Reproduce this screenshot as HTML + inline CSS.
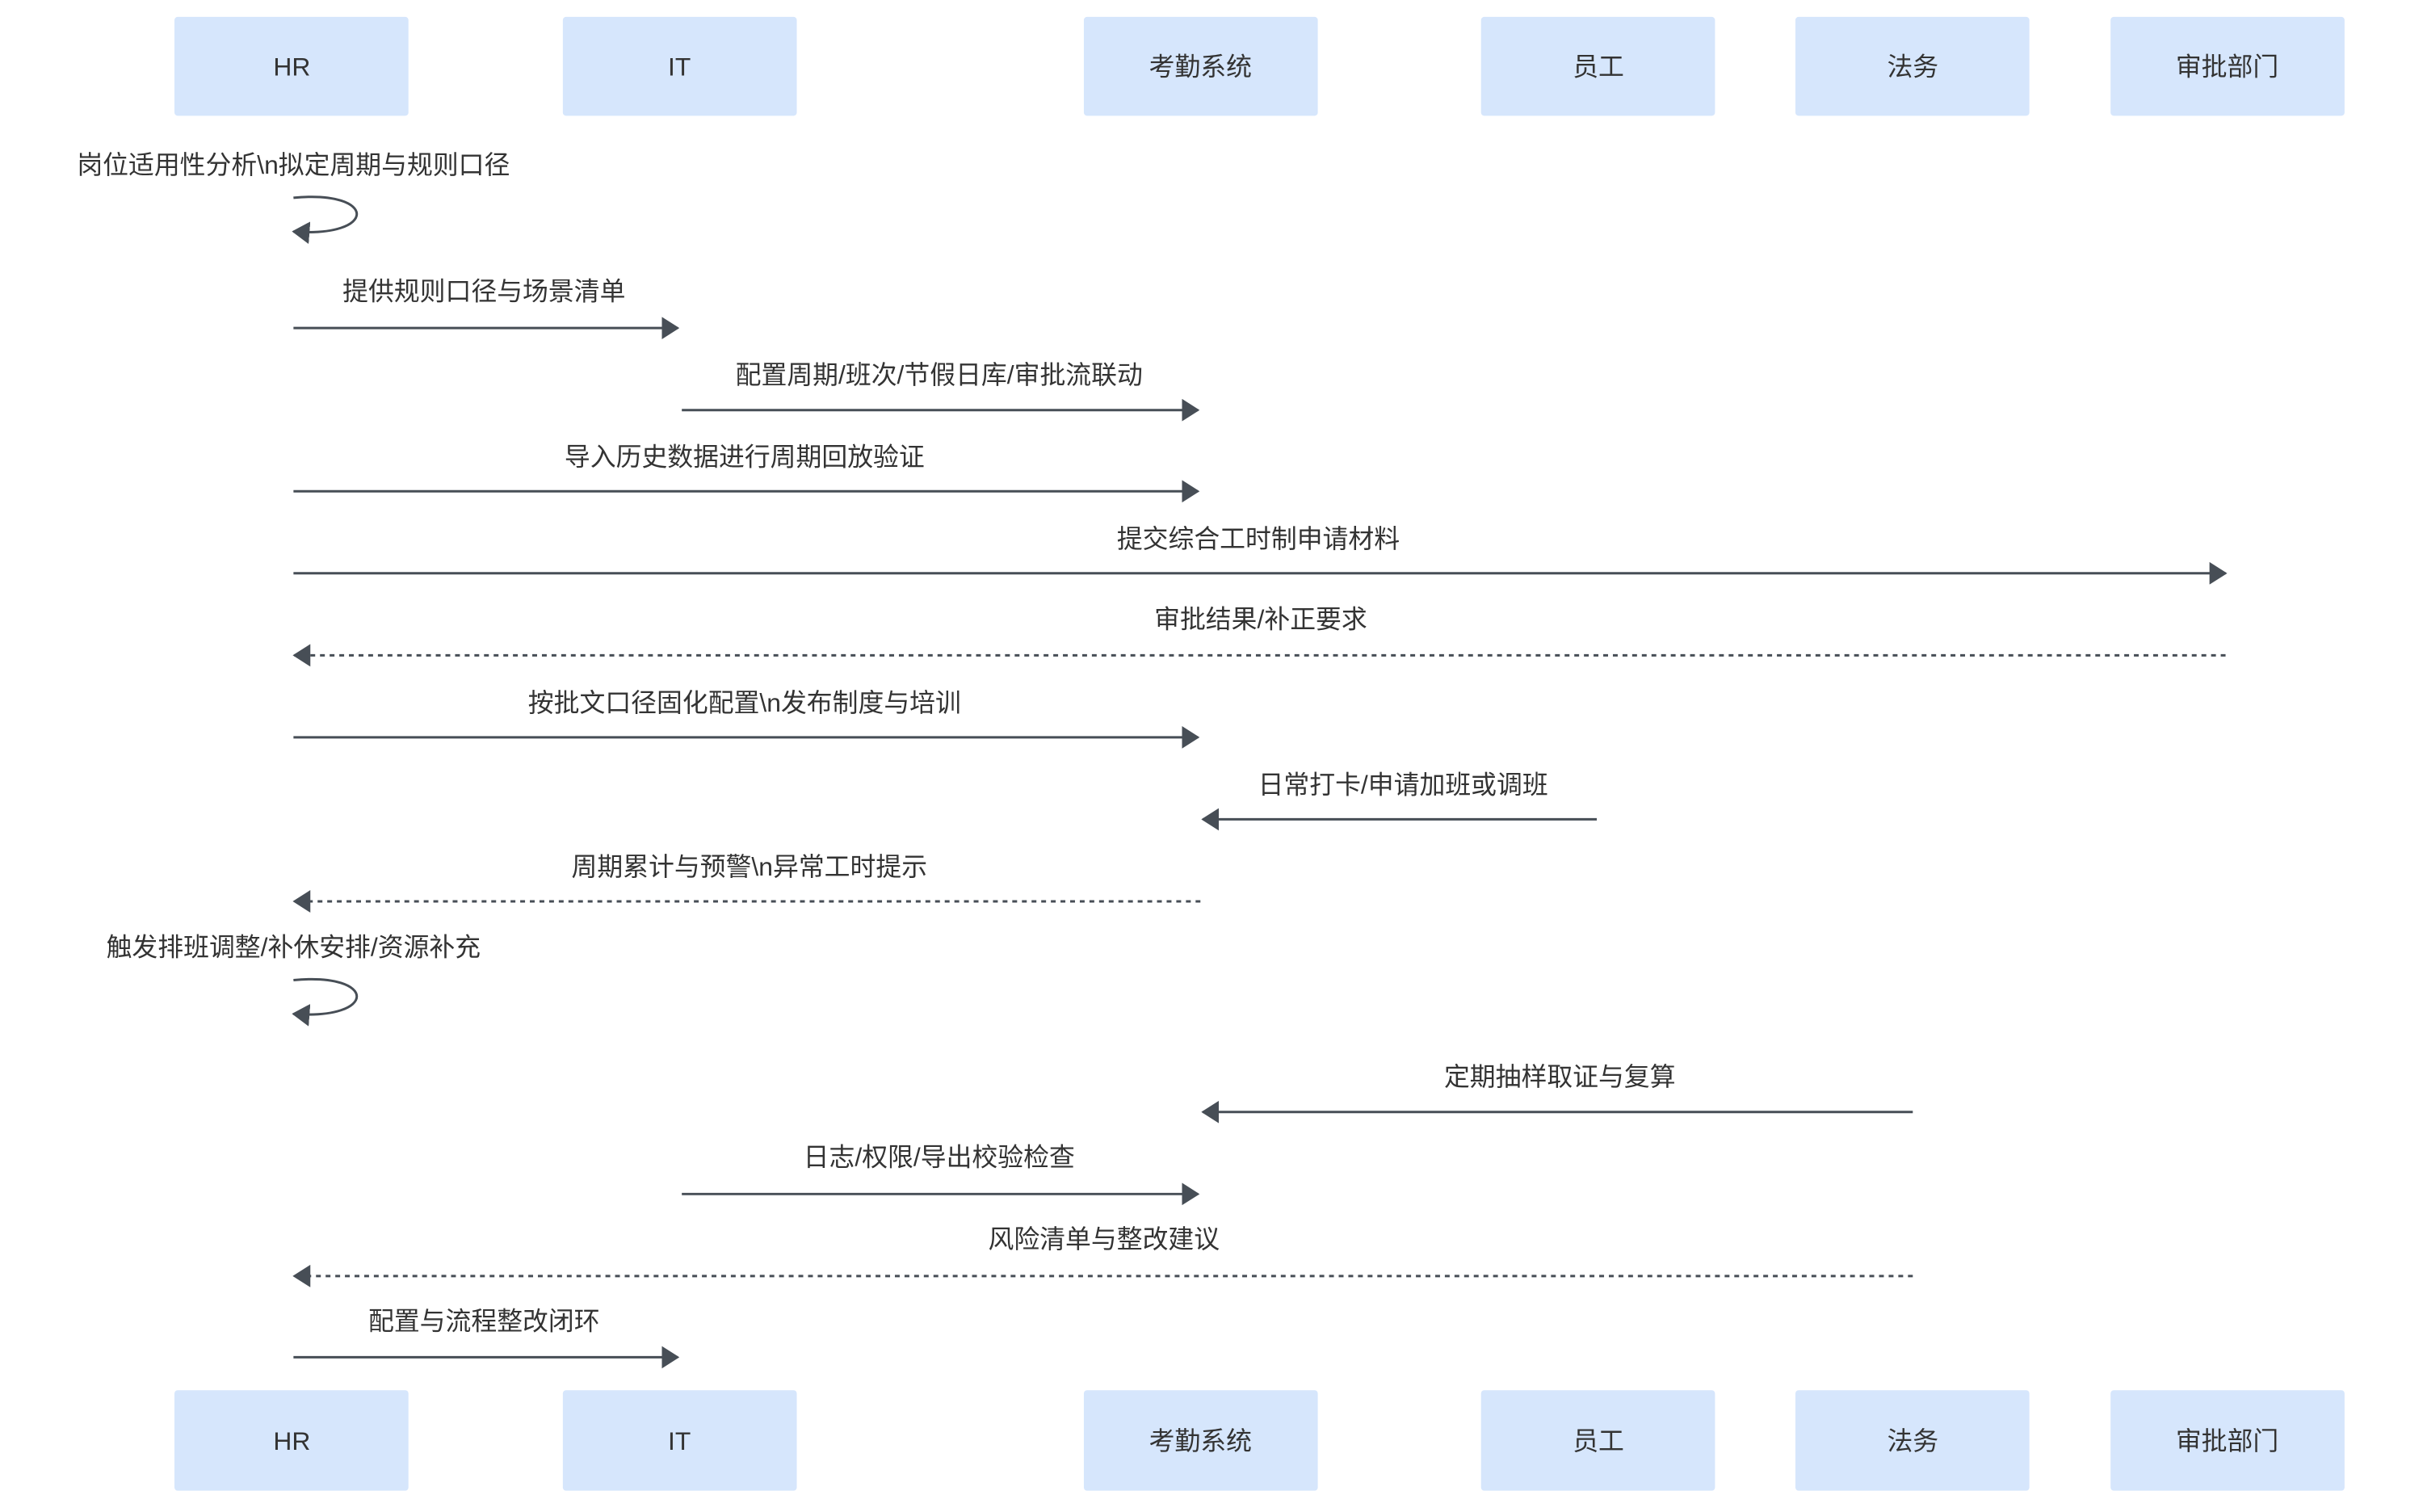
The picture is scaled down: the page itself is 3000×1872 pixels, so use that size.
<!DOCTYPE html>
<html><head><meta charset="utf-8"><style>
html,body{margin:0;padding:0;background:#fff;}
body{width:3000px;height:1867px;overflow:hidden;}
svg text{font-family:"Liberation Sans","Noto Sans CJK SC",sans-serif;fill:#333;font-size:32px;}
</style></head><body>
<svg width="3000" height="1867" viewBox="0 0 3000 1867" xmlns="http://www.w3.org/2000/svg">
<defs>
<marker id="a" markerWidth="22" markerHeight="28" refX="20" refY="14" orient="auto" markerUnits="userSpaceOnUse">
<path d="M0,0 L22,14 L0,28 z" fill="#474e56"/></marker>
</defs>
<g transform="scale(0.9955)">
<g fill="#d6e6fc">
<rect x="217" y="21" width="291" height="123" rx="4"/>
<rect x="700" y="21" width="291" height="123" rx="4"/>
<rect x="1348" y="21" width="291" height="123" rx="4"/>
<rect x="1842" y="21" width="291" height="123" rx="4"/>
<rect x="2233" y="21" width="291" height="123" rx="4"/>
<rect x="2625" y="21" width="291" height="123" rx="4"/>
<rect x="217" y="1729" width="291" height="125" rx="4"/>
<rect x="700" y="1729" width="291" height="125" rx="4"/>
<rect x="1348" y="1729" width="291" height="125" rx="4"/>
<rect x="1842" y="1729" width="291" height="125" rx="4"/>
<rect x="2233" y="1729" width="291" height="125" rx="4"/>
<rect x="2625" y="1729" width="291" height="125" rx="4"/>
</g>
<g text-anchor="middle">
<text x="363" y="94">HR</text><text x="845" y="94">IT</text><text x="1493" y="94">考勤系统</text>
<text x="1988" y="94">员工</text><text x="2379" y="94">法务</text><text x="2770" y="94">审批部门</text>
<text x="363" y="1803">HR</text><text x="845" y="1803">IT</text><text x="1493" y="1803">考勤系统</text>
<text x="1988" y="1803">员工</text><text x="2379" y="1803">法务</text><text x="2770" y="1803">审批部门</text>

<text x="365" y="216">岗位适用性分析\n拟定周期与规则口径</text>
<text x="602" y="373">提供规则口径与场景清单</text>
<text x="1168" y="477">配置周期/班次/节假日库/审批流联动</text>
<text x="926" y="579">导入历史数据进行周期回放验证</text>
<text x="1565" y="681">提交综合工时制申请材料</text>
<text x="1568" y="781">审批结果/补正要求</text>
<text x="926" y="885">按批文口径固化配置\n发布制度与培训</text>
<text x="1745" y="987">日常打卡/申请加班或调班</text>
<text x="932" y="1089">周期累计与预警\n异常工时提示</text>
<text x="365" y="1189">触发排班调整/补休安排/资源补充</text>
<text x="1940" y="1350">定期抽样取证与复算</text>
<text x="1168" y="1450">日志/权限/导出校验检查</text>
<text x="1373" y="1552">风险清单与整改建议</text>
<text x="602" y="1654">配置与流程整改闭环</text>
</g>
<g stroke="#474e56" stroke-width="3" fill="none" marker-end="url(#a)">
<path d="M365,246 C470,236 470,296 365,288"/>
<path d="M365,1219 C470,1209 470,1269 365,1261"/>
<line x1="365" y1="408" x2="843" y2="408"/>
<line x1="848" y1="510" x2="1490" y2="510"/>
<line x1="365" y1="611" x2="1490" y2="611"/>
<line x1="365" y1="713" x2="2768" y2="713"/>
<line x1="2768" y1="815" x2="366" y2="815" stroke-dasharray="6,6"/>
<line x1="365" y1="917" x2="1490" y2="917"/>
<line x1="1986" y1="1019" x2="1496" y2="1019"/>
<line x1="1493" y1="1121" x2="366" y2="1121" stroke-dasharray="6,6"/>
<line x1="2379" y1="1383" x2="1496" y2="1383"/>
<line x1="848" y1="1485" x2="1490" y2="1485"/>
<line x1="2379" y1="1587" x2="366" y2="1587" stroke-dasharray="6,6"/>
<line x1="365" y1="1688" x2="843" y2="1688"/>
</g>
</g>
</svg>
</body></html>
